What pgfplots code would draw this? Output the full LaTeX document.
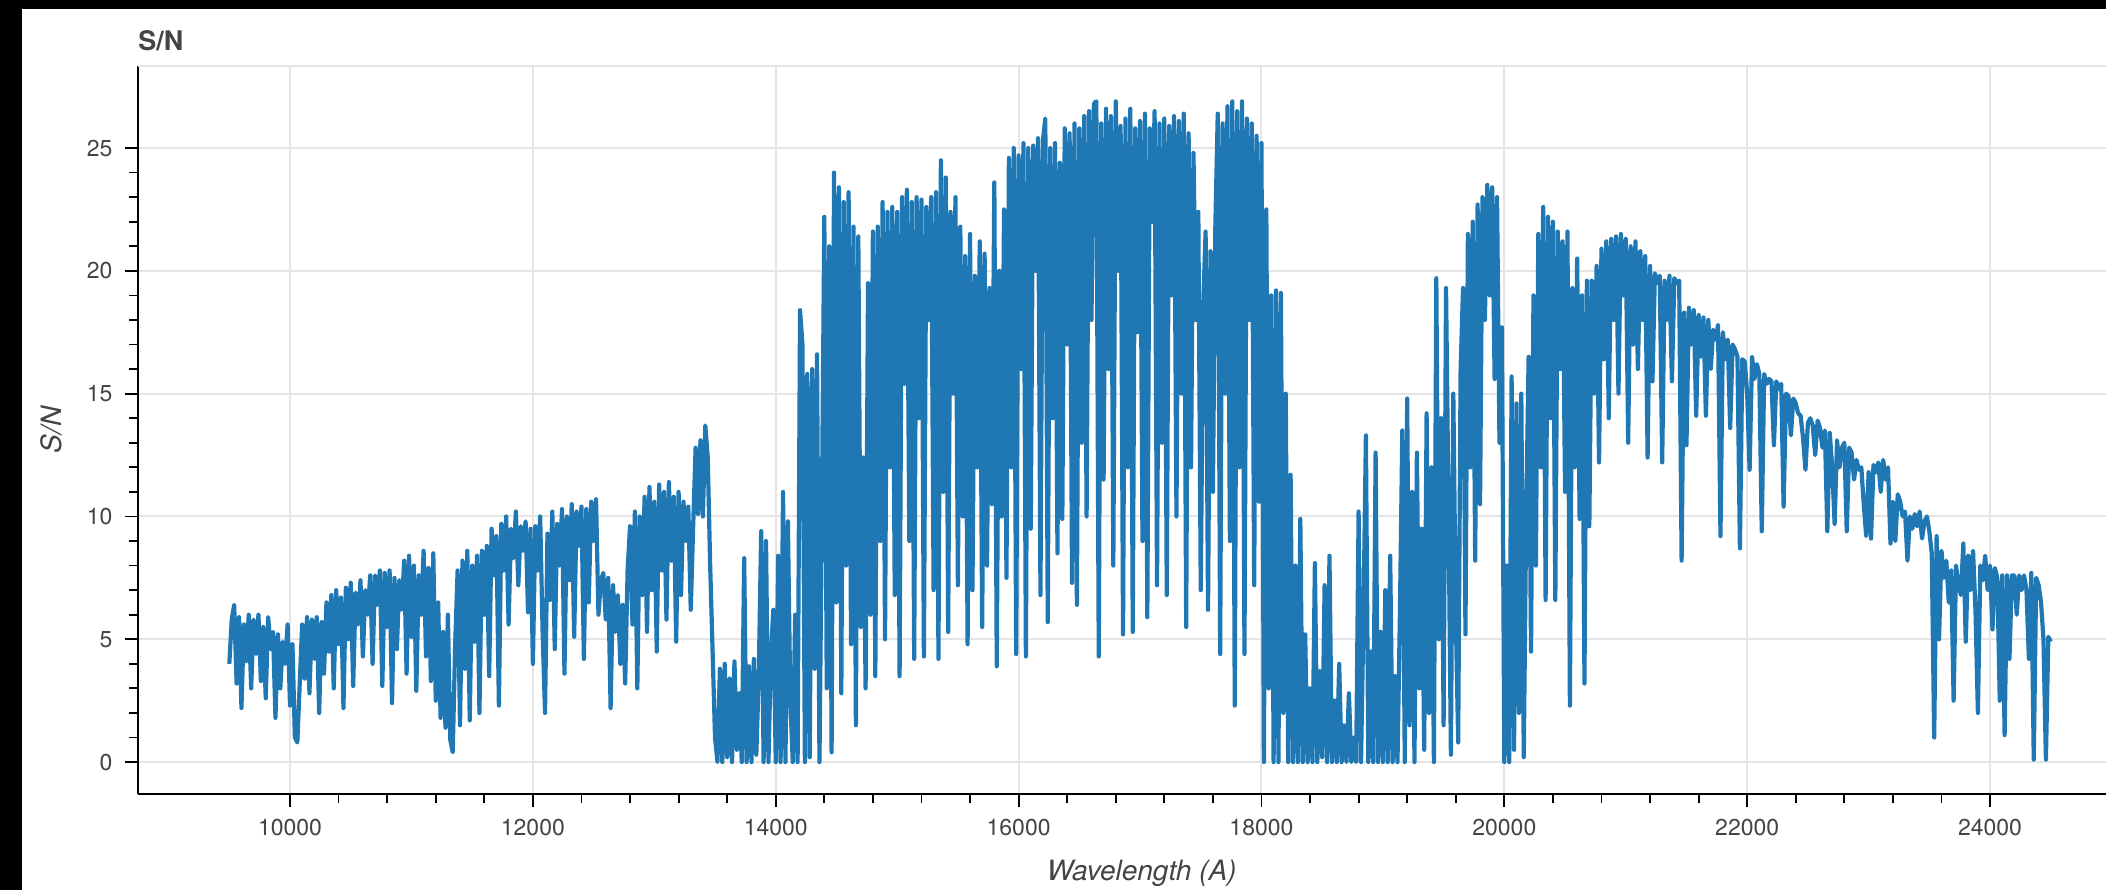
\documentclass[border=0pt]{standalone}
\usepackage{fontspec}
\setmainfont{TeX Gyre Heros}
\usepackage{pgfplots}
\pgfplotsset{compat=1.18}
\definecolor{bkblue}{HTML}{1F77B4}
\definecolor{gridc}{HTML}{E5E5E5}
\definecolor{tickc}{HTML}{444444}
\begin{document}
\begin{tikzpicture}
\useasboundingbox (-69pt,-48pt) rectangle (984pt,397pt);
\fill[black] (-69pt,-48pt) rectangle (-58pt,397pt);
\fill[black] (-69pt,392.5pt) rectangle (984pt,397pt);
\begin{axis}[
  at={(0pt,0pt)}, anchor=south west,
  scale only axis, width=984pt, height=364pt,
  xmin=8748, xmax=24955, ymin=-1.30, ymax=28.34,
  axis x line*=bottom, axis y line*=left,
  axis line style={black, line width=0.9pt},
  xtick={10000,12000,...,24000}, ytick={0,5,...,25},
  minor x tick num=4, minor y tick num=4,
  tick align=outside,
  major tick length=6.5pt, minor tick length=4.5pt,
  every tick/.style={black, line width=0.9pt},
  grid=major, major grid style={gridc, line width=1pt},
  scaled ticks=false,
  /pgf/number format/.cd, set thousands separator={}, assume math mode=true,
  /pgfplots/.cd,
  tick label style={font=\fontsize{11.5}{13}\selectfont, text=tickc},
  xticklabel shift=2.5pt, yticklabel shift=2.7pt,
  title={S/N},
  title style={at={(0,1)}, anchor=base west, inner xsep=0pt, yshift=1.5pt, font=\fontsize{13.5}{15}\selectfont\bfseries, text=tickc},
  xlabel={Wavelength (A)},
  xlabel style={at={(axis description cs:0.51,0)}, anchor=base, yshift=-43pt, font=\fontsize{14}{16}\selectfont\itshape, text=tickc},
  after end axis/.code={
    \draw[gridc, line width=1pt] (rel axis cs:0,1) -- (rel axis cs:1,1);
    \node[rotate=90, anchor=center, text=tickc, font=\fontsize{14}{16}\selectfont\itshape] at ([xshift=-43.25pt]rel axis cs:0,0.5) {S/N};
  },
]
\addplot[bkblue, line width=2.1pt, line join=round, mark=none] coordinates {
(9500,4.0)(9520,5.8)(9540,6.4)(9560,3.2)(9580,5.9)(9600,2.2)(9620,5.6)(9640,4.1)(9660,6.0)(9680,3.0)
(9700,5.8)(9720,4.4)(9740,6.0)(9760,3.3)(9780,5.5)(9800,2.6)(9820,5.9)(9840,4.6)(9860,5.3)(9880,1.8)
(9900,5.2)(9920,3.0)(9940,4.9)(9960,4.0)(9980,5.6)(10000,2.3)(10020,4.8)(10040,1.0)(10060,0.8)(10080,3.2)
(10100,5.6)(10120,3.4)(10140,5.9)(10160,2.8)(10180,5.8)(10200,4.2)(10220,5.9)(10240,2.0)(10260,5.7)(10280,3.6)
(10300,6.5)(10320,4.5)(10340,6.8)(10360,3.0)(10380,7.0)(10400,4.8)(10420,6.7)(10440,2.2)(10460,7.1)(10480,5.0)
(10500,7.3)(10520,3.1)(10540,6.9)(10560,5.6)(10580,7.4)(10600,4.3)(10620,7.0)(10640,6.0)(10660,7.6)
(10680,4.0)(10700,7.6)(10720,6.4)(10740,7.8)(10760,3.1)(10780,7.7)(10800,5.5)(10820,7.8)(10840,2.4)(10860,7.5)
(10880,4.6)(10900,7.4)(10920,6.2)(10940,8.2)(10960,3.6)(10980,8.4)(11000,5.1)(11020,8.0)(11040,2.9)(11060,7.6)
(11080,6.0)(11100,8.6)(11120,4.3)(11140,7.9)(11160,3.3)(11180,8.5)(11200,2.5)(11220,6.5)(11240,1.8)(11260,5.3)
(11280,1.4)(11300,6.0)(11320,0.9)(11340,0.4)(11360,4.8)(11380,7.8)(11400,1.5)(11420,8.2)(11440,3.8)(11460,8.6)
(11480,1.7)(11500,8.0)(11520,4.9)(11540,8.4)(11560,2.0)(11580,8.6)(11600,6.0)(11620,8.8)(11640,3.5)(11660,9.5)
(11680,7.6)(11700,9.2)(11720,2.3)(11740,9.7)(11760,7.8)(11780,10.0)(11800,5.6)(11820,9.5)(11840,8.3)(11860,10.2)
(11880,7.2)(11900,9.6)(11920,8.6)(11940,9.8)(11960,6.1)(11980,9.5)
(12000,4.0)(12020,9.6)(12040,7.8)(12060,10.0)(12080,5.3)(12100,2.0)(12120,9.3)(12140,6.6)(12160,10.2)(12180,4.6)
(12200,9.7)(12220,8.0)(12240,10.3)(12260,3.6)(12280,10.0)(12300,7.4)(12320,10.5)(12340,5.1)(12360,10.2)(12380,8.8)
(12400,10.4)(12420,4.2)(12440,10.3)(12460,6.5)(12480,10.6)(12500,9.0)(12520,10.7)(12540,6.0)(12560,7.4)
(12580,7.7)(12600,5.8)(12620,7.5)(12640,2.2)(12660,7.2)(12680,5.3)(12700,6.8)(12720,4.0)(12740,6.4)(12760,3.2)(12780,7.8)
(12800,9.6)(12820,5.6)(12840,10.2)(12860,3.0)(12880,10.0)(12900,6.8)(12920,10.8)(12940,5.3)(12960,11.2)(12980,7.0)
(13000,10.6)(13020,4.5)(13040,11.3)(13060,7.8)(13080,11.0)(13100,5.8)(13120,11.4)(13140,8.2)(13160,10.8)(13180,4.9)
(13200,11.0)(13220,6.8)(13240,10.6)(13260,9.0)(13280,10.4)(13300,6.2)(13320,9.6)(13340,12.8)(13360,10.1)(13380,13.1)
(13400,10.0)(13420,13.7)(13440,12.4)(13460,8.0)(13480,4.5)(13500,1.0)(13520,0.0)
(13540,3.8)(13560,0.0)(13580,4.0)(13600,0.2)(13620,3.4)(13640,0.0)(13660,4.1)(13680,0.5)(13700,2.8)(13720,0.0)
(13740,8.3)(13760,0.0)(13780,3.9)(13800,0.0)(13820,4.2)(13840,0.3)(13860,3.5)(13880,9.4)(13900,0.0)(13920,9.0)
(13940,0.0)(13960,4.4)(13980,6.2)(14000,0.0)(14020,8.4)(14040,0.0)(14060,11.0)(14080,0.0)(14100,9.8)(14120,2.5)
(14140,0.0)(14160,6.0)(14180,0.0)(14200,18.4)(14220,17.0)(14240,0.0)(14260,15.8)(14280,0.2)(14300,16.0)(14320,3.8)
(14340,16.6)(14360,0.0)(14380,10.2)
(14400,22.2)(14420,3.0)(14440,21.0)(14460,0.4)(14480,24.0)(14500,6.5)(14520,23.4)(14540,2.8)(14560,22.8)(14580,8.0)
(14600,23.2)(14620,4.8)(14640,21.8)(14660,1.5)(14680,21.4)(14700,5.5)(14720,12.4)(14740,3.0)(14760,19.5)(14780,6.0)
(14800,21.6)(14820,3.5)(14840,21.8)(14860,9.0)(14880,22.8)(14900,5.0)
(14920,22.4)(14940,12.0)(14960,22.6)(14980,6.8)(15000,22.4)(15020,3.5)(15040,23.0)(15060,15.4)(15080,23.3)(15100,9.0)
(15120,22.8)(15140,4.2)(15160,23.0)(15180,14.0)(15200,22.9)(15220,4.3)(15240,22.6)(15260,18.0)(15280,23.0)(15300,7.0)
(15320,23.2)(15340,4.2)(15360,24.5)(15380,11.0)(15400,23.8)(15420,5.3)(15440,22.4)(15460,15.0)(15480,23.0)(15500,7.2)
(15520,21.8)(15540,10.0)(15560,20.6)(15580,4.8)(15600,21.5)(15620,7.0)(15640,19.8)(15660,12.0)(15680,21.2)(15700,5.5)
(15720,20.7)(15740,8.0)
(15760,19.3)(15780,10.5)(15800,23.6)(15820,3.9)(15840,20.0)(15860,10.0)(15880,22.5)(15900,7.5)(15920,24.6)
(15940,12.0)(15960,25.0)(15980,4.4)(16000,24.7)(16020,16.0)(16040,25.2)(16060,4.3)(16080,25.0)(16100,9.5)(16120,25.1)
(16140,20.0)(16160,25.4)(16180,6.8)(16200,25.3)(16220,26.2)(16240,5.7)(16260,25.0)(16280,14.0)(16300,25.2)(16320,8.5)
(16340,24.4)
(16360,9.9)(16380,25.8)(16400,17.0)(16420,25.6)(16440,7.3)(16460,26.0)(16480,6.4)(16500,25.8)(16520,13.0)(16540,26.3)
(16560,10.0)(16580,26.5)(16600,18.0)(16620,26.8)(16640,26.9)(16660,4.3)(16680,26.0)(16700,11.5)(16720,26.6)(16740,16.0)
(16760,26.3)(16780,8.0)(16800,26.9)
(16820,20.0)(16840,25.9)(16860,5.2)(16880,26.2)(16900,12.0)(16920,26.6)(16940,5.3)(16960,25.8)(16980,17.5)(17000,26.1)
(17020,9.0)(17040,26.4)(17060,5.9)(17080,25.8)(17100,22.0)(17120,26.5)(17140,7.2)(17160,26.0)(17180,13.0)(17200,26.2)
(17220,6.8)(17240,25.9)(17260,19.0)(17280,26.3)(17300,10.0)(17320,26.1)(17340,15.0)(17360,26.4)(17380,5.5)(17400,25.6)
(17420,12.0)(17440,24.8)(17460,18.0)(17480,22.4)(17500,7.0)(17520,18.6)
(17540,21.6)(17560,6.2)(17580,20.8)(17600,11.0)(17620,21.8)(17640,26.4)
(17660,4.4)(17680,26.0)(17700,15.0)(17720,26.7)(17740,9.0)(17760,26.9)(17780,2.3)(17800,26.5)(17820,12.0)(17840,26.9)
(17860,4.4)(17880,26.2)(17900,18.0)(17920,26.0)(17940,7.2)(17960,25.5)(17980,10.6)(18000,25.2)
(18020,0.0)(18040,22.5)(18060,3.0)(18080,19.0)(18100,0.0)(18120,19.2)(18140,0.0)(18160,19.1)(18180,2.0)(18200,15.0)
(18220,0.0)(18240,11.7)(18260,0.0)(18280,8.0)(18300,0.0)(18320,9.9)
(18340,0.0)(18360,5.2)(18380,0.0)(18400,3.0)(18420,0.0)(18440,8.1)(18460,0.0)(18480,3.7)(18500,0.2)(18520,7.2)
(18540,0.0)(18560,8.4)(18580,0.0)(18600,2.5)(18620,0.0)(18640,4.0)(18660,0.0)(18680,1.5)(18700,0.0)(18720,2.8)
(18740,0.0)(18760,1.0)
(18780,0.0)(18800,10.2)(18820,0.0)(18840,6.0)(18860,13.3)(18880,0.0)(18900,4.5)(18920,0.0)(18940,12.6)(18960,0.0)
(18980,5.3)(19000,0.0)(19020,7.0)(19040,0.0)(19060,8.4)(19080,0.0)(19100,3.5)(19120,0.0)(19140,6.0)
(19160,13.5)(19180,0.0)(19200,14.8)(19220,1.5)(19240,11.0)(19260,0.0)(19280,12.6)(19300,3.0)(19320,9.5)(19340,0.5)
(19360,14.2)(19380,2.0)(19400,12.0)(19420,0.0)
(19440,19.7)(19460,5.0)(19480,14.0)(19500,1.5)(19520,19.3)(19540,10.5)(19560,0.3)(19580,15.0)(19600,6.0)(19620,0.8)
(19640,16.0)(19660,19.3)
(19680,5.2)(19700,21.5)(19720,12.0)(19740,22.0)(19760,8.2)(19780,22.7)(19800,10.5)(19820,23.0)(19840,18.0)(19860,23.5)
(19880,19.0)(19900,23.4)(19920,15.6)(19940,23.0)(19960,13.0)(19980,17.7)
(20000,0.0)(20020,8.0)(20040,0.0)(20060,15.7)(20080,0.5)(20100,14.6)(20120,2.0)(20140,15.0)(20160,0.2)(20180,10.0)
(20200,16.5)(20220,4.5)(20240,19.0)
(20260,8.0)(20280,21.5)(20300,12.0)(20320,22.6)(20340,6.6)(20360,22.2)(20380,14.0)(20400,22.0)(20420,6.6)(20440,21.6)
(20460,16.0)(20480,21.2)(20500,11.0)(20520,21.6)
(20540,2.3)(20560,19.3)(20580,12.0)(20600,20.5)(20620,9.9)(20640,19.0)(20660,3.2)(20680,19.6)(20700,9.6)(20720,19.6)
(20740,15.0)(20760,20.2)(20780,12.2)(20800,20.9)
(20820,16.4)(20840,21.2)(20860,14.0)(20880,21.3)(20900,18.0)(20920,21.4)(20940,15.0)(20960,21.5)(20980,19.0)(21000,21.3)
(21020,13.0)(21040,21.0)(21060,17.0)(21080,21.2)
(21100,16.0)(21120,20.8)(21140,18.0)(21160,20.6)(21180,12.4)(21200,20.2)(21220,15.5)(21240,19.9)(21260,19.5)(21280,19.8)
(21300,12.2)(21320,19.6)(21340,18.0)(21360,19.8)
(21380,15.5)(21400,19.7)(21420,19.5)(21440,19.6)(21460,8.2)(21480,18.3)(21500,12.9)(21520,18.5)(21540,17.0)(21560,18.4)
(21580,14.1)(21600,18.2)(21620,16.5)
(21640,18.1)(21660,14.1)(21680,18.0)(21700,16.0)(21720,17.6)(21740,17.2)(21760,17.8)(21780,9.2)(21800,17.5)(21820,16.4)
(21840,17.2)(21860,13.6)(21880,17.0)(21900,16.8)(21920,16.5)(21940,8.7)(21960,16.4)(21980,16.3)(22000,15.0)
(22020,11.9)(22040,16.5)(22060,15.6)(22080,16.2)(22100,15.8)(22120,9.4)(22140,15.8)(22160,15.4)(22180,15.6)(22200,15.5)
(22220,12.9)(22240,15.5)(22260,15.2)(22280,15.4)(22300,10.4)(22320,15.0)(22340,14.9)(22360,13.3)(22380,14.8)(22400,14.6)
(22420,14.2)
(22440,14.1)(22460,13.2)(22480,11.9)(22500,13.8)(22520,14.0)(22540,13.7)(22560,12.5)(22580,13.9)(22600,13.6)(22620,12.8)
(22640,13.5)(22660,9.4)(22680,13.4)(22700,12.0)(22720,9.7)
(22740,13.1)(22760,12.0)(22780,12.8)(22800,13.0)(22820,9.4)(22840,12.8)(22860,12.6)(22880,11.5)(22900,12.3)(22920,11.9)
(22940,12.0)(22960,10.5)(22980,9.2)(23000,11.8)(23020,9.1)(23040,12.1)(23060,11.8)(23080,12.2)(23100,11.0)(23120,12.3)
(23140,11.5)(23160,12.0)
(23180,8.9)(23200,10.6)(23220,9.0)(23240,10.9)(23260,10.6)(23280,10.0)(23300,10.2)(23320,8.2)(23340,10.0)(23360,9.5)
(23380,10.1)(23400,9.6)(23420,10.2)(23440,9.1)(23460,9.8)(23480,10.0)(23500,9.4)(23520,8.5)
(23540,1.0)(23560,9.2)(23580,5.0)(23600,8.6)(23620,7.5)(23640,8.2)(23660,6.5)(23680,7.8)(23700,2.5)(23720,8.0)
(23740,7.2)(23760,6.8)(23780,8.9)(23800,4.9)(23820,8.4)(23840,7.0)(23860,8.6)(23880,6.2)(23900,2.0)(23920,8.0)
(23940,7.4)
(23960,8.4)(23980,7.0)(24000,8.0)(24020,5.4)(24040,7.9)(24060,7.5)(24080,2.5)(24100,7.6)(24120,1.1)(24140,7.6)
(24160,4.2)
(24180,7.6)(24200,7.6)(24220,6.0)(24240,7.6)(24260,7.0)(24280,7.6)(24300,7.0)(24320,4.2)(24340,7.7)(24360,0.1)
(24380,7.5)(24400,7.2)(24420,6.5)(24440,5.0)(24460,0.1)(24480,5.1)(24500,4.9)
};
\end{axis}
\end{tikzpicture}
\end{document}
